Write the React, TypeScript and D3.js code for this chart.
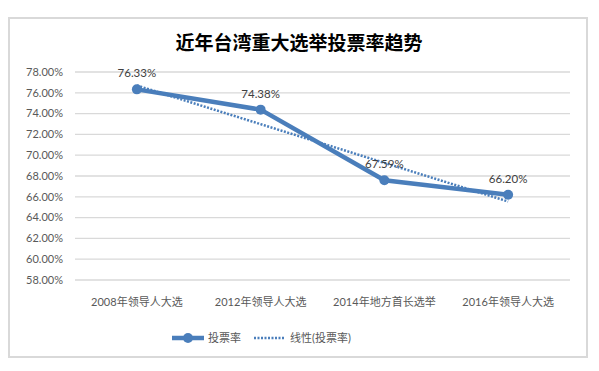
import { useEffect, useRef } from 'react';
import * as d3 from 'd3';

const CATEGORIES = ['2008年领导人大选', '2012年领导人大选', '2014年地方首长选举', '2016年领导人大选'];
const TURNOUT = [76.33, 74.38, 67.59, 66.20];
const Y_TICKS = [58, 60, 62, 64, 66, 68, 70, 72, 74, 76, 78];

const W = 599;
const H = 371;
const BLUE = '#4a7ebb';
const LATIN = "Lato, 'Noto Sans CJK SC', sans-serif";

export default function App() {
  const svgRef = useRef<SVGSVGElement>(null);

  useEffect(() => {
    if (!svgRef.current) return;
    const svg = d3.select(svgRef.current);
    svg.selectAll('*').remove();

    // outer frame
    svg.append('rect').attr('x', 9).attr('y', 18).attr('width', 578).attr('height', 339)
      .attr('fill', '#fff').attr('stroke', '#d9d9d9').attr('stroke-width', 2);

    svg.append('text')
      .attr('x', 299).attr('y', 50)
      .attr('text-anchor', 'middle')
      .attr('font-family', "'Noto Sans CJK SC', sans-serif")
      .attr('font-weight', 700)
      .attr('font-size', 19)
      .attr('fill', '#000')
      .text('近年台湾重大选举投票率趋势');

    const x = d3.scaleBand<string>().domain(CATEGORIES).range([75, 570]);
    const y = d3.scaleLinear().domain([58, 78]).range([280, 72]);
    const cx = (i: number) => (x(CATEGORIES[i]) ?? 0) + x.bandwidth() / 2;

    // grid + y labels
    const grid = svg.append('g');
    Y_TICKS.forEach(t => {
      grid.append('line')
        .attr('x1', 75).attr('x2', 570).attr('y1', y(t)).attr('y2', y(t))
        .attr('stroke', '#d9d9d9').attr('stroke-width', 1.3);
      grid.append('text')
        .attr('x', 63).attr('y', y(t)).attr('dy', '0.35em')
        .attr('text-anchor', 'end')
        .attr('font-family', LATIN).attr('font-size', 11)
        .attr('fill', '#595959')
        .text(`${t.toFixed(2)}%`);
    });

    // category labels
    CATEGORIES.forEach((c, i) => {
      svg.append('text')
        .attr('x', cx(i)).attr('y', 302).attr('dy', '0.35em')
        .attr('text-anchor', 'middle')
        .attr('font-family', LATIN).attr('font-size', 11)
        .attr('fill', '#595959')
        .text(c);
    });

    // linear trend (least squares on index 1..n)
    const xs = TURNOUT.map((_, i) => i + 1);
    const mx = d3.mean(xs) ?? 0;
    const my = d3.mean(TURNOUT) ?? 0;
    const slope = d3.sum(xs.map((v, i) => (v - mx) * (TURNOUT[i] - my))) / d3.sum(xs.map(v => (v - mx) ** 2));
    const trend = xs.map(v => my + slope * (v - mx));

    const line = d3.line<number>().x((_, i) => cx(i)).y(d => y(d));

    svg.append('path').datum(TURNOUT).attr('d', line)
      .attr('fill', 'none').attr('stroke', BLUE).attr('stroke-width', 4.5)
      .attr('stroke-linejoin', 'round');

    svg.append('path').datum(trend).attr('d', line)
      .attr('fill', 'none').attr('stroke', BLUE).attr('stroke-width', 2.5)
      .attr('stroke-dasharray', '2 1.5');

    svg.append('g').selectAll('circle').data(TURNOUT).enter().append('circle')
      .attr('cx', (_, i) => cx(i)).attr('cy', d => y(d)).attr('r', 5)
      .attr('fill', BLUE);

    svg.append('g').selectAll('text').data(TURNOUT).enter().append('text')
      .attr('x', (_, i) => cx(i)).attr('y', d => y(d) - 16).attr('dy', '0.35em')
      .attr('text-anchor', 'middle')
      .attr('font-family', LATIN).attr('font-size', 11.5)
      .attr('fill', '#404040')
      .text(d => `${d.toFixed(2)}%`);

    // legend
    const lg = svg.append('g');
    lg.append('line').attr('x1', 172).attr('x2', 204).attr('y1', 338).attr('y2', 338)
      .attr('stroke', BLUE).attr('stroke-width', 4.5);
    lg.append('circle').attr('cx', 188).attr('cy', 338).attr('r', 5).attr('fill', BLUE);
    lg.append('text').attr('x', 208).attr('y', 338).attr('dy', '0.35em')
      .attr('font-family', LATIN).attr('font-size', 11).attr('fill', '#595959')
      .text('投票率');
    lg.append('line').attr('x1', 254).attr('x2', 284).attr('y1', 338).attr('y2', 338)
      .attr('stroke', BLUE).attr('stroke-width', 2.5).attr('stroke-dasharray', '2 1.5');
    lg.append('text').attr('x', 290).attr('y', 338).attr('dy', '0.35em')
      .attr('font-family', LATIN).attr('font-size', 11).attr('fill', '#595959')
      .text('线性(投票率)');
  }, []);

  return (
    <svg
      ref={svgRef}
      width={W}
      height={H}
      style={{ position: 'absolute', left: 0, top: 0, background: '#fff' }}
    />
  );
}
